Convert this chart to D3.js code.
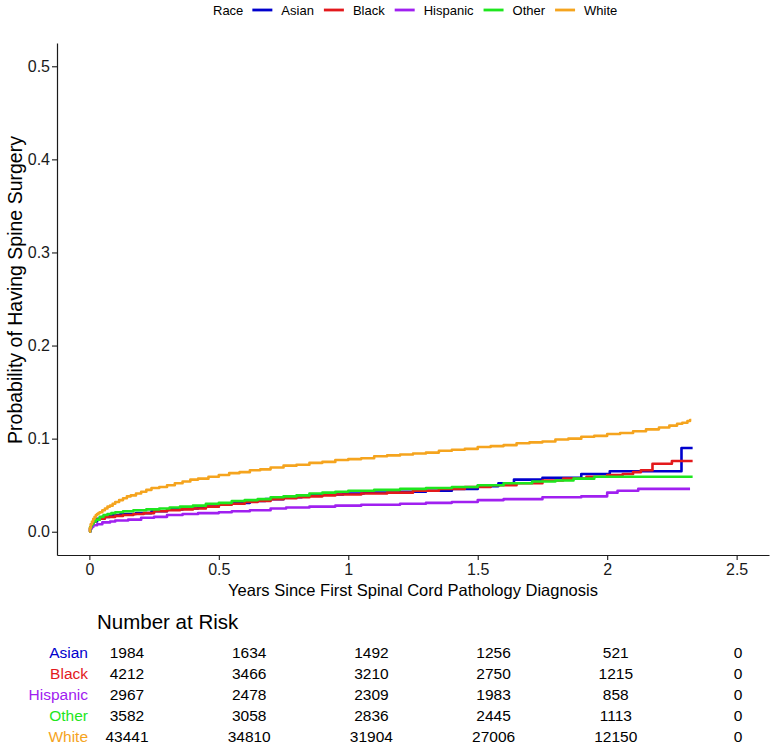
<!DOCTYPE html>
<html>
<head>
<meta charset="utf-8">
<script src="https://cdn.jsdelivr.net/npm/d3@7"></script>
<style>
  body { margin: 0; background: #fff; }
  svg { display: block; font-family: Arial, "Liberation Sans", Helvetica, sans-serif; }
</style>
</head>
<body>
<svg id="chart" width="775" height="750"></svg>
<script>
// ---------- data ----------
const groups = ["Asian", "Black", "Hispanic", "Other", "White"];
const groupColors = ["#0000CD", "#E3191C", "#A020F0", "#1EE61E", "#F5A41E"];

const asianT = [0, 0.003, 0.008, 0.015, 0.03, 0.05, 0.08, 0.12, 0.18, 0.24, 0.3, 0.36, 0.42, 0.5, 0.56, 0.62, 0.68, 0.75, 0.82, 0.9, 0.98, 1.06, 1.2, 1.3, 1.4, 1.5, 1.58, 1.64, 1.75, 1.9, 2.01, 2.287, 2.33];
const asianV = [0, 0.004, 0.008, 0.011, 0.014, 0.016, 0.018, 0.019, 0.020, 0.022, 0.024, 0.025, 0.027, 0.030, 0.031, 0.033, 0.035, 0.037, 0.039, 0.040, 0.041, 0.042, 0.043, 0.044, 0.046, 0.049, 0.052, 0.056, 0.058, 0.062, 0.065, 0.090, 0.090];

const blackT = [0, 0.003, 0.008, 0.015, 0.025, 0.04, 0.06, 0.1, 0.13, 0.17, 0.21, 0.25, 0.3, 0.35, 0.4, 0.45, 0.5, 0.55, 0.6, 0.65, 0.7, 0.75, 0.8, 0.85, 0.9, 0.95, 1.05, 1.15, 1.25, 1.35, 1.45, 1.55, 1.65, 1.75, 1.83, 1.92, 2.0, 2.06, 2.1, 2.13, 2.175, 2.25, 2.33];
const blackV = [0, 0.004, 0.008, 0.011, 0.013, 0.014, 0.016, 0.017, 0.018, 0.019, 0.020, 0.022, 0.023, 0.024, 0.025, 0.027, 0.029, 0.030, 0.032, 0.033, 0.035, 0.036, 0.037, 0.038, 0.039, 0.040, 0.041, 0.042, 0.044, 0.046, 0.048, 0.050, 0.052, 0.055, 0.057, 0.059, 0.061, 0.062, 0.064, 0.066, 0.073, 0.076, 0.076];

const hispanicT = [0, 0.003, 0.008, 0.015, 0.03, 0.05, 0.08, 0.1, 0.15, 0.2, 0.25, 0.3, 0.36, 0.42, 0.5, 0.55, 0.62, 0.7, 0.76, 0.85, 0.95, 1.05, 1.2, 1.3, 1.4, 1.5, 1.6, 1.75, 1.9, 2.0, 2.04, 2.12, 2.32];
const hispanicV = [0, 0.003, 0.005, 0.007, 0.008, 0.010, 0.011, 0.012, 0.013, 0.015, 0.016, 0.018, 0.019, 0.020, 0.021, 0.022, 0.023, 0.025, 0.026, 0.027, 0.028, 0.029, 0.030, 0.031, 0.032, 0.034, 0.035, 0.037, 0.038, 0.042, 0.044, 0.046, 0.046];

const otherT = [0, 0.003, 0.008, 0.015, 0.025, 0.04, 0.055, 0.07, 0.085, 0.1, 0.13, 0.17, 0.22, 0.27, 0.31, 0.35, 0.4, 0.45, 0.5, 0.55, 0.6, 0.65, 0.7, 0.75, 0.8, 0.85, 0.9, 0.95, 1.0, 1.1, 1.2, 1.3, 1.4, 1.5, 1.6, 1.71, 1.8, 1.87, 1.95, 2.33];
const otherV = [0, 0.005, 0.008, 0.011, 0.013, 0.016, 0.018, 0.019, 0.020, 0.021, 0.022, 0.023, 0.024, 0.025, 0.026, 0.027, 0.028, 0.030, 0.031, 0.033, 0.034, 0.035, 0.037, 0.038, 0.039, 0.041, 0.042, 0.043, 0.044, 0.045, 0.046, 0.047, 0.048, 0.050, 0.052, 0.054, 0.055, 0.057, 0.059, 0.059];

const whiteT = [0, 0.002, 0.005, 0.01, 0.015, 0.02, 0.025, 0.03, 0.035, 0.04, 0.05, 0.06, 0.07, 0.08, 0.09, 0.1, 0.115, 0.13, 0.145, 0.16, 0.18, 0.2, 0.22, 0.24, 0.27, 0.3, 0.33, 0.36, 0.39, 0.42, 0.46, 0.5, 0.54, 0.58, 0.62, 0.66, 0.7, 0.75, 0.8, 0.85, 0.9, 0.95, 1.0, 1.05, 1.1, 1.15, 1.2, 1.25, 1.3, 1.35, 1.4, 1.45, 1.5, 1.55, 1.6, 1.65, 1.7, 1.75, 1.8, 1.85, 1.9, 1.95, 2.0, 2.05, 2.1, 2.15, 2.2, 2.24, 2.27, 2.29, 2.31, 2.32, 2.325];
const whiteV = [0, 0.004, 0.008, 0.011, 0.014, 0.016, 0.018, 0.019, 0.020, 0.021, 0.023, 0.025, 0.027, 0.028, 0.030, 0.032, 0.034, 0.036, 0.038, 0.039, 0.041, 0.043, 0.045, 0.047, 0.048, 0.050, 0.052, 0.054, 0.056, 0.057, 0.059, 0.061, 0.063, 0.064, 0.066, 0.067, 0.069, 0.071, 0.072, 0.074, 0.075, 0.077, 0.078, 0.079, 0.081, 0.082, 0.083, 0.084, 0.085, 0.087, 0.088, 0.089, 0.091, 0.092, 0.093, 0.095, 0.096, 0.097, 0.099, 0.100, 0.102, 0.103, 0.105, 0.106, 0.108, 0.110, 0.112, 0.114, 0.116, 0.117, 0.119, 0.120, 0.120];

const xTicks = [0, 0.5, 1, 1.5, 2, 2.5];
const xTickLabels = ["0", "0.5", "1", "1.5", "2", "2.5"];
const yTicks = [0, 0.1, 0.2, 0.3, 0.4, 0.5];
const yTickLabels = ["0.0", "0.1", "0.2", "0.3", "0.4", "0.5"];

const riskTimes = [0, 0.5, 1, 1.5, 2, 2.5];
const riskAsian = [1984, 1634, 1492, 1256, 521, 0];
const riskBlack = [4212, 3466, 3210, 2750, 1215, 0];
const riskHispanic = [2967, 2478, 2309, 1983, 858, 0];
const riskOther = [3582, 3058, 2836, 2445, 1113, 0];
const riskWhite = [43441, 34810, 31904, 27006, 12150, 0];

const legendTitle = "Race";
const xTitle = "Years Since First Spinal Cord Pathology Diagnosis";
const yTitle = "Probability of Having Spine Surgery";
const riskTitle = "Number at Risk";

// ---------- build ----------
const seriesT = [asianT, blackT, hispanicT, otherT, whiteT];
const seriesV = [asianV, blackV, hispanicV, otherV, whiteV];
const series = groups.map((g, i) => ({
  name: g, color: groupColors[i],
  pts: seriesT[i].map((t, j) => ({ t: t, v: seriesV[i][j] }))
}));
const riskRows = [riskAsian, riskBlack, riskHispanic, riskOther, riskWhite];

const svg = d3.select("#chart");

const panel = { left: 57, right: 769, top: 43, bottom: 555 };
const x = d3.scaleLinear().domain([-0.125, 2.625]).range([panel.left, panel.right]);
const y = d3.scaleLinear().domain([-0.025, 0.525]).range([panel.bottom, panel.top]);

// curves
const line = d3.line().x(d => x(d.t)).y(d => y(d.v)).curve(d3.curveStepAfter);
svg.append("g").selectAll("path").data(series).join("path")
  .attr("d", d => line(d.pts))
  .attr("fill", "none")
  .attr("stroke", d => d.color)
  .attr("stroke-width", 2.6)
  .attr("stroke-linejoin", "round");

// axes
const xAxis = d3.axisBottom(x).tickValues(xTicks).tickFormat((d, i) => xTickLabels[i]).tickSize(5).tickSizeOuter(0);
const gx = svg.append("g").attr("transform", `translate(0,${panel.bottom})`).call(xAxis);
gx.select(".domain").attr("stroke", "#1a1a1a").attr("stroke-width", 1.2);
gx.selectAll(".tick line").attr("stroke", "#1a1a1a").attr("stroke-width", 1.1);
gx.selectAll(".tick text").attr("font-size", 16).attr("fill", "#1a1a1a").attr("dy", "0.95em").attr("y", 5)
  .attr("font-family", "Arial, 'Liberation Sans', sans-serif");

const yAxis = d3.axisLeft(y).tickValues(yTicks).tickFormat((d, i) => yTickLabels[i]).tickSize(5).tickSizeOuter(0);
const gy = svg.append("g").attr("transform", `translate(${panel.left},0)`).call(yAxis);
gy.select(".domain").attr("stroke", "#1a1a1a").attr("stroke-width", 1.2);
gy.selectAll(".tick line").attr("stroke", "#1a1a1a").attr("stroke-width", 1.1);
gy.selectAll(".tick text").attr("font-size", 16).attr("fill", "#1a1a1a").attr("x", -7)
  .attr("font-family", "Arial, 'Liberation Sans', sans-serif");

// axis titles
svg.append("text").attr("x", (panel.left + panel.right) / 2).attr("y", 596)
  .attr("text-anchor", "middle").attr("font-size", 16.5).attr("fill", "#000").text(xTitle);
svg.append("text").attr("transform", `translate(22,290) rotate(-90)`)
  .attr("text-anchor", "middle").attr("font-size", 19.5).attr("fill", "#000").text(yTitle);

// legend
const lg = svg.append("g");
let lx = 213;
const ly = 10;
const lt = lg.append("text").attr("x", lx).attr("y", ly).attr("dy", "0.35em").attr("font-size", 13).attr("fill", "#000").text(legendTitle);
lx += lt.node().getComputedTextLength() + 9;
groups.forEach((g, i) => {
  lg.append("line").attr("x1", lx).attr("x2", lx + 20).attr("y1", ly).attr("y2", ly)
    .attr("stroke", groupColors[i]).attr("stroke-width", 2.8);
  lx += 29;
  const t = lg.append("text").attr("x", lx).attr("y", ly).attr("dy", "0.35em").attr("font-size", 13).attr("fill", "#000").text(g);
  lx += t.node().getComputedTextLength() + 10;
});

// risk table
svg.append("text").attr("x", 97).attr("y", 629).attr("font-size", 20.5).attr("fill", "#000").text(riskTitle);
const xr = d3.scaleLinear().domain([0, 2.5]).range([127, 738]);
const rowY = d3.scalePoint().domain(groups).range([652, 736.5]);
groups.forEach((g, i) => {
  svg.append("text").attr("x", 88).attr("y", rowY(g)).attr("dy", "0.36em")
    .attr("text-anchor", "end").attr("font-size", 15.5).attr("fill", groupColors[i]).text(g);
  riskTimes.forEach((t, j) => {
    svg.append("text").attr("x", xr(t)).attr("y", rowY(g)).attr("dy", "0.36em")
      .attr("text-anchor", "middle").attr("font-size", 15.5).attr("fill", "#000").text(riskRows[i][j]);
  });
});
</script>
</body>
</html>
